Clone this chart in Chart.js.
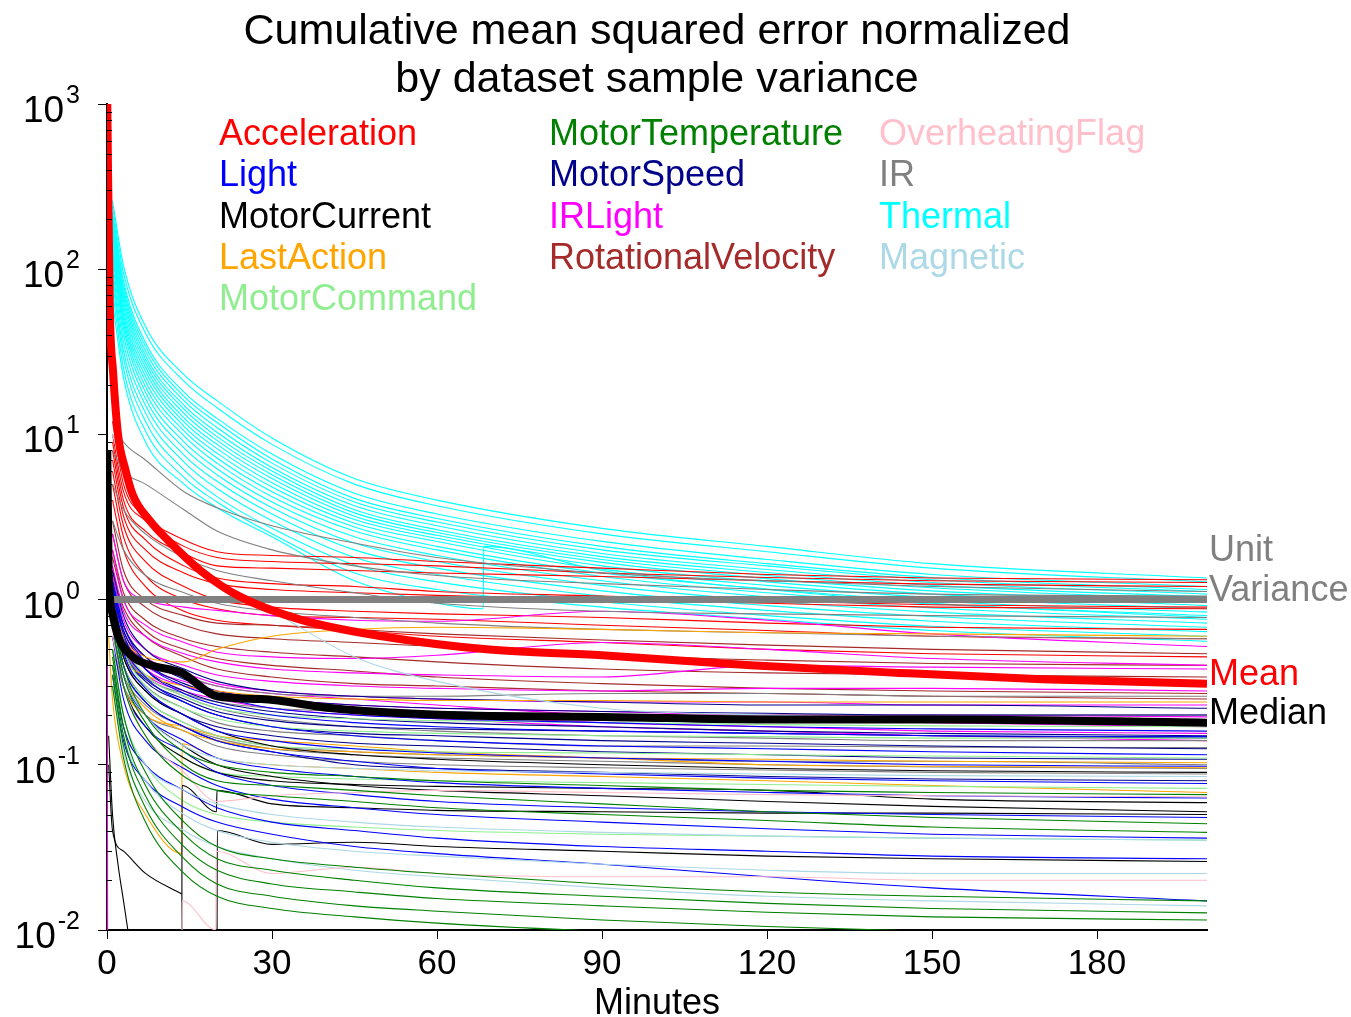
<!DOCTYPE html>
<html>
<head>
<meta charset="utf-8">
<script src="https://cdn.jsdelivr.net/npm/chart.js@4.4.1/dist/chart.umd.min.js"></script>
<style>
  html, body { margin: 0; padding: 0; background: #fff; }
  #wrap { width: 1351px; height: 1017px; position: relative; }
</style>
</head>
<body>
<div id="wrap"><canvas id="mseChart"></canvas></div>
<script>
const XS = [0.2, 1, 3, 7, 14, 20, 30, 45, 60, 90, 120, 150, 200];
const X_TICKS = [0, 30, 60, 90, 120, 150, 180];
const Y_TICKS = [0.01, 0.1, 1, 10, 100, 1000];
const Y_TICK_EXP = ["-2", "-1", "0", "1", "2", "3"];

const thermalLines = [
  [null, 260, 105, 45, 23, 16, 9.5, 5.4, 4.0, 2.7, 2.1, 1.65, 1.35],
  [null, 240, 95, 41, 21, 14.5, 8.7, 5.0, 3.7, 2.5, 1.95, 1.55, 1.28],
  [null, 220, 85, 36, 18, 12.5, 7.6, 4.4, 3.3, 2.25, 1.75, 1.42, 1.2],
  [null, 210, 80, 34, 17, 11.8, 7.1, 4.1, 3.1, 2.1, 1.65, 1.36, 1.15],
  [null, 200, 76, 32, 16, 11.0, 6.7, 3.9, 2.95, 2.0, 1.6, 1.32, 1.12],
  [null, 190, 72, 30, 15, 10.3, 6.3, 3.7, 2.8, 1.9, 1.52, 1.27, 1.08],
  [null, 180, 68, 28.5, 14.2, 9.7, 6.0, 3.5, 2.65, 1.82, 1.46, 1.22, 1.04],
  [null, 170, 64, 27, 13.4, 9.2, 5.7, 3.35, 2.55, 1.75, 1.4, 1.18, 1.0],
  [null, 160, 60, 25.5, 12.6, 8.7, 5.4, 3.2, 2.45, 1.68, 1.34, 1.13, 0.96],
  [null, 150, 56, 24, 11.9, 8.2, 5.1, 3.05, 2.35, 1.6, 1.28, 1.08, 0.92],
  [null, 145, 53, 22.5, 11.2, 7.7, 4.8, 2.9, 2.25, 1.53, 1.22, 1.03, 0.88],
  [null, 135, 50, 21, 10.5, 7.2, 4.5, 2.75, 2.1, 1.45, 1.16, 0.98, 0.84],
  [null, 128, 47, 19.5, 9.8, 6.7, 4.2, 2.6, 2.0, 1.38, 1.1, 0.94, 0.8],
  [null, 120, 44, 18, 9.0, 6.2, 3.9, 2.4, 1.85, 1.3, 1.04, 0.89, 0.76],
  [null, 110, 40, 16.5, 8.3, 5.7, 3.6, 2.2, 1.7, 1.22, 0.98, 0.84, 0.72],
  [null, 100, 36, 15, 7.5, 5.2, 3.3, 2.0, 1.55, 1.13, 0.92, 0.79, 0.68],
  [null, 92, 32, 13.5, 6.8, 4.7, 3.0, 1.8, 1.42, 1.05, 0.86, 0.74, 0.64],
  [null, 85, 29, 12, 6.1, 4.2, 2.7, 1.62, 1.28, 0.97, 0.8, 0.69, 0.6],
  [null, 75, 25, 10.5, 5.5, 3.9, 2.5, 1.45, 1.15, 0.9, 0.76, 0.65, 0.56]
];
const thermalResetX = [1, 3, 7, 14, 20, 30, 45, 60, 68.4, 68.5, 90, 120, 150, 200];
const thermalResetY = [64, 22, 9, 5, 3.6, 2.4, 1.3, 0.95, 0.88, 2.1, 1.5, 1.15, 0.95, 0.78];

const accelerationLines = [
  [null, 12, 5, 3.2, 2.3, 1.95, 1.85, 1.8, 1.7, 1.55, 1.42, 1.35, 1.32],
  [null, 10, 4.5, 3.0, 2.1, 1.8, 1.7, 1.65, 1.6, 1.45, 1.36, 1.3, 1.27],
  [null, 9, 4, 2.6, 1.9, 1.6, 1.55, 1.5, 1.45, 1.38, 1.3, 1.24, 1.2],
  [null, 8, 3.6, 2.3, 1.6, 1.35, 1.25, 1.2, 1.12, 1.05, 0.98, 0.93, 0.9],
  [null, 7, 3.2, 2.0, 1.45, 1.25, 1.15, 1.1, 1.06, 1.0, 0.95, 0.9, 0.88],
  [null, 6, 2.8, 1.7, 1.2, 1.0, 0.9, 0.85, 0.82, 0.78, 0.72, 0.68, 0.66],
  [null, 5, 2.4, 1.4, 1.0, 0.88, 0.8, 0.78, 0.76, 0.7, 0.65, 0.6, 0.58],
  [null, 4, 2.0, 1.2, 0.85, 0.75, 0.7, 0.65, 0.6, 0.55, 0.5, 0.47, 0.45]
];

const rotationalLines = [
  [null, 3, 1.5, 1.0, 0.8, 0.72, 0.7, 0.66, 0.62, 0.57, 0.53, 0.5, 0.47],
  [null, 2.5, 1.3, 0.9, 0.7, 0.62, 0.58, 0.55, 0.52, 0.46, 0.43, 0.41, 0.4],
  [null, 2, 1.1, 0.75, 0.58, 0.52, 0.48, 0.45, 0.42, 0.38, 0.36, 0.35, 0.34],
  [null, 1.8, 1.0, 0.65, 0.5, 0.44, 0.4, 0.37, 0.34, 0.31, 0.29, 0.28, 0.27],
  [null, 1.5, 0.9, 0.6, 0.45, 0.38, 0.34, 0.31, 0.3, 0.28, 0.27, 0.26, 0.25]
];

const irLightLines = [
  [null, 2.5, 1.3, 1.0, 0.9, 0.86, 0.8, 0.75, 0.74, 0.85, 0.75, 0.62, 0.52],
  [null, 2, 1.0, 0.7, 0.55, 0.48, 0.45, 0.44, 0.46, 0.55, 0.5, 0.44, 0.4],
  [null, 1.6, 0.85, 0.6, 0.47, 0.42, 0.38, 0.36, 0.35, 0.34, 0.4, 0.39, 0.38],
  [null, 1.4, 0.75, 0.5, 0.4, 0.35, 0.32, 0.3, 0.29, 0.28, 0.29, 0.29, 0.28],
  [null, 1.2, 0.65, 0.45, 0.36, 0.31, 0.28, 0.26, 0.25, 0.24, 0.24, 0.23, 0.23],
  [null, 1.1, 0.6, 0.4, 0.32, 0.28, 0.25, 0.23, 0.22, 0.21, 0.2, 0.2, 0.195],
  [null, 1.0, 0.6, 0.42, 0.34, 0.3, 0.27, 0.25, 0.23, 0.2, 0.19, 0.18, 0.17],
  [null, 0.9, 0.55, 0.38, 0.3, 0.27, 0.24, 0.21, 0.2, 0.18, 0.17, 0.16, 0.155],
  [null, 0.8, 0.5, 0.35, 0.28, 0.25, 0.22, 0.2, 0.19, 0.17, 0.16, 0.15, 0.14]
];
const irLightDropX = [0.05, 0.12];
const irLightDropY = [0.4, 0.005];

const irLines = [
  [null, 12, 9, 7, 4.5, 3.6, 2.8, 2.2, 1.8, 1.45, 1.3, 1.2, 1.12],
  [null, 8, 6, 5, 3.5, 2.6, 2.0, 1.6, 1.4, 1.25, 1.15, 1.08, 1.05],
  [null, 5, 3.5, 2.5, 1.8, 1.5, 1.3, 1.1, 0.95, 0.85, 0.82, 0.8, 0.78],
  [null, 3, 2.0, 1.4, 1.1, 0.95, 0.85, 0.78, 0.72, 0.66, 0.63, 0.6, 0.58],
  [null, 1.2, 0.7, 0.45, 0.35, 0.3, 0.27, 0.26, 0.26, 0.27, 0.27, 0.26, 0.26],
  [null, 1.0, 0.55, 0.35, 0.26, 0.22, 0.19, 0.17, 0.16, 0.15, 0.145, 0.14, 0.14],
  [null, 0.85, 0.5, 0.34, 0.27, 0.24, 0.22, 0.21, 0.2, 0.2, 0.2, 0.2, 0.2],
  [null, 0.9, 0.45, 0.3, 0.22, 0.18, 0.16, 0.15, 0.14, 0.13, 0.13, 0.128, 0.127],
  [null, 0.7, 0.4, 0.25, 0.18, 0.15, 0.13, 0.12, 0.115, 0.11, 0.105, 0.105, 0.1],
  [null, 0.6, 0.35, 0.23, 0.17, 0.145, 0.125, 0.115, 0.11, 0.105, 0.1, 0.097, 0.095],
  [null, 0.5, 0.3, 0.2, 0.16, 0.13, 0.115, 0.105, 0.1, 0.096, 0.093, 0.09, 0.088]
];

const motorSpeedLines = [
  [null, 1.5, 0.8, 0.5, 0.38, 0.32, 0.28, 0.26, 0.25, 0.24, 0.23, 0.23, 0.22],
  [null, 1.3, 0.7, 0.45, 0.33, 0.28, 0.25, 0.23, 0.22, 0.21, 0.205, 0.2, 0.2],
  [null, 1.2, 0.65, 0.42, 0.31, 0.27, 0.24, 0.22, 0.21, 0.2, 0.19, 0.185, 0.18],
  [null, 1.1, 0.6, 0.38, 0.28, 0.24, 0.21, 0.19, 0.18, 0.17, 0.16, 0.155, 0.15],
  [null, 0.95, 0.5, 0.33, 0.25, 0.21, 0.185, 0.17, 0.165, 0.16, 0.155, 0.15, 0.145],
  [null, 1.0, 0.5, 0.32, 0.24, 0.2, 0.17, 0.155, 0.15, 0.14, 0.135, 0.13, 0.125],
  [null, 0.9, 0.45, 0.28, 0.2, 0.17, 0.15, 0.135, 0.13, 0.12, 0.115, 0.11, 0.108],
  [null, 0.8, 0.4, 0.24, 0.17, 0.14, 0.12, 0.1, 0.095, 0.09, 0.085, 0.082, 0.08]
];

const lightLines = [
  [null, 1.3, 0.7, 0.42, 0.3, 0.26, 0.22, 0.2, 0.19, 0.18, 0.17, 0.165, 0.16],
  [null, 1.2, 0.62, 0.38, 0.27, 0.23, 0.2, 0.18, 0.17, 0.16, 0.155, 0.15, 0.148],
  [null, 1.1, 0.55, 0.34, 0.24, 0.2, 0.17, 0.15, 0.14, 0.13, 0.125, 0.12, 0.115],
  [null, 1.0, 0.48, 0.29, 0.2, 0.16, 0.14, 0.125, 0.118, 0.11, 0.105, 0.1, 0.098],
  [null, 0.9, 0.4, 0.24, 0.17, 0.14, 0.12, 0.105, 0.095, 0.088, 0.083, 0.08, 0.077],
  [null, 0.8, 0.35, 0.2, 0.14, 0.11, 0.095, 0.085, 0.078, 0.072, 0.068, 0.065, 0.063],
  [null, 0.7, 0.3, 0.17, 0.12, 0.09, 0.075, 0.066, 0.06, 0.055, 0.052, 0.05, 0.048],
  [null, 0.6, 0.25, 0.14, 0.095, 0.075, 0.062, 0.055, 0.05, 0.045, 0.041, 0.038, 0.036],
  [null, 0.4, 0.17, 0.1, 0.07, 0.055, 0.045, 0.04, 0.036, 0.032, 0.03, 0.028, 0.027],
  [null, 0.35, 0.14, 0.08, 0.055, 0.045, 0.038, 0.032, 0.029, 0.025, 0.021, 0.018, 0.015]
];

const motorCurrentLines = [
  [null, 0.9, 0.45, 0.28, 0.2, 0.16, 0.13, 0.115, 0.108, 0.1, 0.095, 0.092, 0.09],
  [null, 0.7, 0.35, 0.2, 0.13, 0.1, 0.085, 0.075, 0.07, 0.065, 0.06, 0.056, 0.052],
  [null, 0.6, 0.3, 0.17, 0.11, 0.09, 0.08, 0.076, 0.074, 0.072, 0.07, 0.062, 0.059]
];
const motorCurrentEarlyX = [0.3, 1, 3, 7, 13.6];
const motorCurrentEarlyY = [0.1, 0.04, 0.03, 0.022, 0.0165];
const motorCurrentLateX = [13.6, 13.65, 19.9, 20, 30, 45, 60, 90, 120, 150, 200];
const motorCurrentLateY = [0.005, 0.075, 0.052, 0.07, 0.058, 0.055, 0.053, 0.052, 0.051, 0.051, 0.05];
const motorCurrentStepX = [20, 20.05, 30, 45, 60, 90, 120, 150, 200];
const motorCurrentStepY = [0.005, 0.04, 0.033, 0.034, 0.032, 0.03, 0.028, 0.027, 0.026];
const motorCurrentFastX = [0.3, 1, 2, 3, 4];
const motorCurrentFastY = [0.15, 0.05, 0.025, 0.015, 0.009];

const lastActionLines = [
  [null, 1.0, 0.6, 0.45, 0.42, 0.5, 0.6, 0.66, 0.68, 0.66, 0.63, 0.62, 0.6],
  [null, 0.8, 0.45, 0.35, 0.3, 0.28, 0.26, 0.25, 0.245, 0.245, 0.24, 0.24, 0.24],
  [null, 0.7, 0.35, 0.22, 0.16, 0.14, 0.125, 0.12, 0.115, 0.11, 0.108, 0.105, 0.103],
  [null, 0.6, 0.3, 0.2, 0.17, 0.15, 0.14, 0.13, 0.12, 0.11, 0.1, 0.098, 0.096]
];
const lastActionResetX = [0.3, 1, 3, 7, 13.6, 13.65, 20, 30, 45, 60, 90, 120, 150, 200];
const lastActionResetY = [0.6, 0.25, 0.1, 0.05, 0.029, 0.134, 0.11, 0.1, 0.095, 0.09, 0.085, 0.08, 0.075, 0.068];

const motorTempLines = [
  [null, 0.9, 0.4, 0.2, 0.12, 0.1, 0.09, 0.085, 0.08, 0.075, 0.07, 0.068, 0.066],
  [null, 0.8, 0.35, 0.18, 0.1, 0.08, 0.075, 0.07, 0.065, 0.058, 0.052, 0.048, 0.044],
  [null, 0.7, 0.3, 0.15, 0.085, 0.07, 0.065, 0.06, 0.055, 0.05, 0.046, 0.042, 0.039],
  [null, 0.5, 0.2, 0.09, 0.045, 0.032, 0.027, 0.024, 0.022, 0.019, 0.017, 0.016, 0.015],
  [null, 0.45, 0.17, 0.075, 0.038, 0.027, 0.023, 0.02, 0.018, 0.016, 0.0145, 0.0135, 0.0127],
  [null, 0.4, 0.15, 0.065, 0.032, 0.023, 0.019, 0.017, 0.0155, 0.014, 0.0128, 0.012, 0.0115],
  [null, 0.35, 0.13, 0.055, 0.027, 0.019, 0.016, 0.014, 0.013, 0.0115, 0.0105, 0.0098, 0.0092],
  [null, 0.3, 0.11, 0.045, 0.022, 0.016, 0.0135, 0.012, 0.011, 0.0098, 0.009, 0.0085, 0.008]
];

const motorCommandLines = [
  [null, 1.0, 0.55, 0.35, 0.26, 0.22, 0.2, 0.19, 0.185, 0.18, 0.175, 0.172, 0.17],
  [null, 0.9, 0.5, 0.3, 0.22, 0.19, 0.17, 0.16, 0.155, 0.15, 0.148, 0.145, 0.145],
  [null, 0.8, 0.4, 0.25, 0.18, 0.15, 0.13, 0.125, 0.12, 0.118, 0.115, 0.113, 0.11],
  [null, 0.6, 0.3, 0.17, 0.11, 0.09, 0.085, 0.082, 0.08, 0.078, 0.076, 0.074, 0.072],
  [null, 0.5, 0.2, 0.1, 0.06, 0.05, 0.045, 0.042, 0.04, 0.038, 0.037, 0.036, 0.035]
];

const overheatingLines = [
  [null, 0.6, 0.3, 0.15, 0.09, 0.06, 0.065, 0.068, 0.07, 0.068, 0.066, 0.065, 0.064]
];
const overheatingResetX = [13.6, 13.65, 19.8, 19.85, 30, 45, 60, 90, 120, 150, 200];
const overheatingResetY = [0.005, 0.015, 0.01, 0.03, 0.022, 0.024, 0.022, 0.021, 0.021, 0.02, 0.02];

const magneticLines = [
  [null, 10, 6, 3.2, 1.8, 1.25, 0.85, 0.45, 0.32, 0.22, 0.2, 0.19, 0.18],
  [null, 0.7, 0.35, 0.2, 0.13, 0.11, 0.1, 0.095, 0.092, 0.09, 0.088, 0.086, 0.085],
  [null, 0.5, 0.2, 0.1, 0.07, 0.058, 0.05, 0.045, 0.042, 0.039, 0.037, 0.036, 0.035],
  [null, 0.4, 0.15, 0.08, 0.05, 0.04, 0.034, 0.03, 0.028, 0.025, 0.023, 0.022, 0.022],
  [null, 0.3, 0.12, 0.06, 0.04, 0.032, 0.027, 0.023, 0.021, 0.018, 0.016, 0.015, 0.014]
];

const meanX = [0.05, 0.5, 1.1, 2, 3.3, 4.7, 7.8, 11, 17, 24, 35, 50, 69, 90, 117, 144, 170, 200];
const meanY = [1000, 60, 24, 10, 6.2, 4.3, 3.0, 2.3, 1.5, 1.05, 0.76, 0.6, 0.5, 0.46, 0.4, 0.36, 0.33, 0.31];
const medianX = [0.05, 0.3, 1, 2, 4.7, 8, 13.6, 20, 28, 41, 62, 90, 120, 150, 200];
const medianY = [8, 1.5, 0.82, 0.6, 0.45, 0.4, 0.36, 0.26, 0.25, 0.22, 0.2, 0.195, 0.188, 0.188, 0.18];
const unitX = [0, 200];
const unitY = [1, 1];

const legendNames = [
  ["Acceleration", "red"], ["Light", "blue"], ["MotorCurrent", "black"], ["LastAction", "orange"], ["MotorCommand", "lightgreen"],
  ["MotorTemperature", "green"], ["MotorSpeed", "darkblue"], ["IRLight", "magenta"], ["RotationalVelocity", "brown"],
  ["OverheatingFlag", "pink"], ["IR", "gray"], ["Thermal", "cyan"], ["Magnetic", "lightblue"]
];

const COLORS = {
  red: "#ff0000", blue: "#0000ff", black: "#000000", orange: "#ffa500", lightgreen: "#90ee90",
  green: "#008000", darkblue: "#00008b", magenta: "#ff00ff", brown: "#a52a2a", pink: "#ffc0cb",
  gray: "#808080", cyan: "#00ffff", lightblue: "#add8e6"
};

function pairs(xs, ys) {
  const out = [];
  xs.forEach((x, i) => { if (ys[i] != null) out.push({ x, y: ys[i] }); });
  return out;
}

const datasets = [];
let orderNo = 10;
function thin(xs, ys, color) {
  datasets.push({ data: pairs(xs, ys), borderColor: COLORS[color], borderWidth: 1.1, order: orderNo++ });
}

motorTempLines.forEach(r => thin(XS, r, "green"));
overheatingLines.forEach(r => thin(XS, r, "pink"));
thin(overheatingResetX, overheatingResetY, "pink");
magneticLines.forEach(r => thin(XS, r, "lightblue"));
lightLines.forEach(r => thin(XS, r, "blue"));
motorCurrentLines.forEach(r => thin(XS, r, "black"));
thin(motorCurrentEarlyX, motorCurrentEarlyY, "black");
thin(motorCurrentLateX, motorCurrentLateY, "black");
thin(motorCurrentStepX, motorCurrentStepY, "black");
thin(motorCurrentFastX, motorCurrentFastY, "black");
motorCommandLines.forEach(r => thin(XS, r, "lightgreen"));
lastActionLines.forEach(r => thin(XS, r, "orange"));
thin(lastActionResetX, lastActionResetY, "orange");
motorSpeedLines.forEach(r => thin(XS, r, "darkblue"));
irLines.forEach(r => thin(XS, r, "gray"));
irLightLines.forEach(r => thin(XS, r, "magenta"));
thin(irLightDropX, irLightDropY, "magenta");
rotationalLines.forEach(r => thin(XS, r, "brown"));
accelerationLines.forEach(r => thin(XS, r, "red"));
thermalLines.forEach(r => thin(XS, r, "cyan"));
thin(thermalResetX, thermalResetY, "cyan");

datasets.push({ data: pairs(unitX, unitY), borderColor: "#808080", borderWidth: 7, order: 2 });
datasets.push({ data: pairs(meanX, meanY), borderColor: "#ff0000", borderWidth: 8, order: 1 });
datasets.push({ data: pairs(medianX, medianY), borderColor: "#000000", borderWidth: 8, order: 0 });

const SANS = "'Liberation Sans', Arial, Helvetica, sans-serif";

const textPlugin = {
  id: "textPlugin",
  afterDraw(chart) {
    const ctx = chart.ctx;
    const xs = chart.scales.x, ys = chart.scales.y;
    const area = chart.chartArea;
    ctx.save();
    ctx.fillStyle = "#000";
    ctx.textBaseline = "alphabetic";

    // title
    ctx.font = "43px " + SANS;
    ctx.textAlign = "center";
    const cx = (area.left + area.right) / 2;
    ctx.fillText("Cumulative mean squared error normalized", cx, 44);
    ctx.fillText("by dataset sample variance", cx, 92);

    // legend: three columns of coloured names
    ctx.font = "36px " + SANS;
    ctx.textAlign = "left";
    const cols = [219, 549, 879];
    const rows = [0, 5, 9];
    legendNames.forEach((item, i) => {
      let col = 0;
      if (i >= rows[2]) col = 2; else if (i >= rows[1]) col = 1;
      const row = i - rows[col];
      ctx.fillStyle = COLORS[item[1]];
      ctx.fillText(item[0], cols[col], 145 + row * 41.3);
    });

    // labels on the right
    ctx.fillStyle = "#808080";
    ctx.fillText("Unit", area.right + 2, 561);
    ctx.fillText("Variance", area.right + 2, 601);
    ctx.fillStyle = "#ff0000";
    ctx.fillText("Mean", area.right + 2, 685);
    ctx.fillStyle = "#000";
    ctx.fillText("Median", area.right + 2, 724);

    // x tick labels and axis title
    ctx.textAlign = "center";
    ctx.font = "35px " + SANS;
    X_TICKS.forEach(v => ctx.fillText(String(v), xs.getPixelForValue(v), 974));
    ctx.font = "36px " + SANS;
    ctx.fillText("Minutes", cx, 1014);

    // y tick labels with superscript exponents
    Y_TICKS.forEach((v, i) => {
      const py = ys.getPixelForValue(v);
      ctx.textAlign = "right";
      ctx.font = "25px " + SANS;
      ctx.fillText(Y_TICK_EXP[i], 80, py - 1);
      const ew = ctx.measureText(Y_TICK_EXP[i]).width;
      ctx.font = "37px " + SANS;
      ctx.fillText("10", 80 - ew - 2, py + 18);
    });

    // minor log ticks, drawn inward
    ctx.strokeStyle = "#000";
    ctx.lineWidth = 1;
    ctx.beginPath();
    for (let d = 0; d < 5; d++) {
      for (let m = 2; m <= 9; m++) {
        const py = Math.round(ys.getPixelForValue(Y_TICKS[d] * m)) + 0.5;
        ctx.moveTo(area.left, py);
        ctx.lineTo(area.left + 5, py);
      }
    }
    ctx.stroke();
    ctx.restore();
  }
};

const ctx = document.getElementById("mseChart").getContext("2d");
new Chart(ctx, {
  type: "line",
  data: {
    datasets: datasets.map(ds => ({
      ...ds,
      fill: false,
      pointRadius: 0,
      cubicInterpolationMode: "monotone",
    })),
  },
  options: {
    responsive: true,
    maintainAspectRatio: false,
    animation: false,
    events: [],
    layout: { padding: { top: 104, right: 144, left: 0, bottom: 0 } },
    scales: {
      x: {
        type: "linear",
        min: 0,
        max: 200,
        afterBuildTicks: s => { s.ticks = X_TICKS.map(v => ({ value: v })); },
        afterFit: s => { s.height = 87; },
        ticks: { display: false },
        grid: { drawOnChartArea: false, drawTicks: true, tickLength: 9, tickColor: "#000" },
        border: { color: "#000", width: 2 }
      },
      y: {
        type: "logarithmic",
        min: 0.01,
        max: 1000,
        afterBuildTicks: s => { s.ticks = Y_TICKS.map(v => ({ value: v })); },
        afterFit: s => { s.width = 107; },
        ticks: { display: false },
        grid: { drawOnChartArea: false, drawTicks: true, tickLength: 9, tickColor: "#000" },
        border: { color: "#000", width: 2 }
      }
    },
    plugins: {
      legend: { display: false },
      tooltip: { enabled: false },
      title: { display: false }
    }
  },
  plugins: [textPlugin]
});
</script>
</body>
</html>
